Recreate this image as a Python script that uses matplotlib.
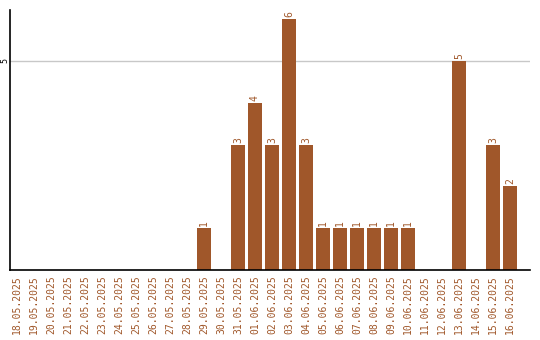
import matplotlib
matplotlib.use('Agg')
import matplotlib.pyplot as plt
import matplotlib.transforms as mtransforms
import numpy as np

dates = ['18.05.2025', '19.05.2025', '20.05.2025', '21.05.2025', '22.05.2025',
         '23.05.2025', '24.05.2025', '25.05.2025', '26.05.2025', '27.05.2025',
         '28.05.2025', '29.05.2025', '30.05.2025', '31.05.2025', '01.06.2025',
         '02.06.2025', '03.06.2025', '04.06.2025', '05.06.2025', '06.06.2025',
         '07.06.2025', '08.06.2025', '09.06.2025', '10.06.2025', '11.06.2025',
         '12.06.2025', '13.06.2025', '14.06.2025', '15.06.2025', '16.06.2025']
counts = [0, 0, 0, 0, 0, 0, 0, 0, 0, 0, 0, 1, 0, 3, 4, 3, 6, 3,
          1, 1, 1, 1, 1, 1, 0, 0, 5, 0, 3, 2]
y_ticks = [5]

bar_color = '#A0572A'
label_color = '#A0572A'

fig = plt.figure(figsize=(5.4, 3.4), dpi=100)
ax = fig.add_axes([10 / 540, 70 / 340, 520 / 540, 260 / 340])

x = np.arange(len(dates))
ax.bar(x, counts, width=0.82, color=bar_color, zorder=2)

# value labels above non-empty bars
for xi, c in zip(x, counts):
    if c > 0:
        ax.text(xi, c + 0.05, str(c), rotation=90, ha='center', va='bottom',
                color=label_color, fontsize=7, family='DejaVu Sans Mono')

ax.set_xlim(-0.41, 30.18)
ax.set_ylim(0, 6.22)

# y tick: gridline only, label drawn by hand so it fits in the left margin
ax.set_yticks(y_ticks)
ax.set_yticklabels([])
ax.tick_params(axis='y', length=0)
ax.grid(axis='y', color='#c8c8c8', linewidth=1, zorder=0)
trans = mtransforms.blended_transform_factory(fig.transFigure, ax.transData)
for yt in y_ticks:
    ax.text(4.5 / 540, yt, str(yt), transform=trans, rotation=90,
            ha='center', va='center', fontsize=6, family='DejaVu Sans Mono',
            clip_on=False)

ax.set_xticks(x)
ax.set_xticklabels(dates, rotation=90, fontsize=7, family='DejaVu Sans Mono',
                   color=label_color)
ax.tick_params(axis='x', length=0, pad=4)

for side in ['top', 'right']:
    ax.spines[side].set_visible(False)
ax.spines['left'].set_linewidth(1.2)
ax.spines['bottom'].set_linewidth(1.2)

plt.savefig('out.png', dpi=100)
